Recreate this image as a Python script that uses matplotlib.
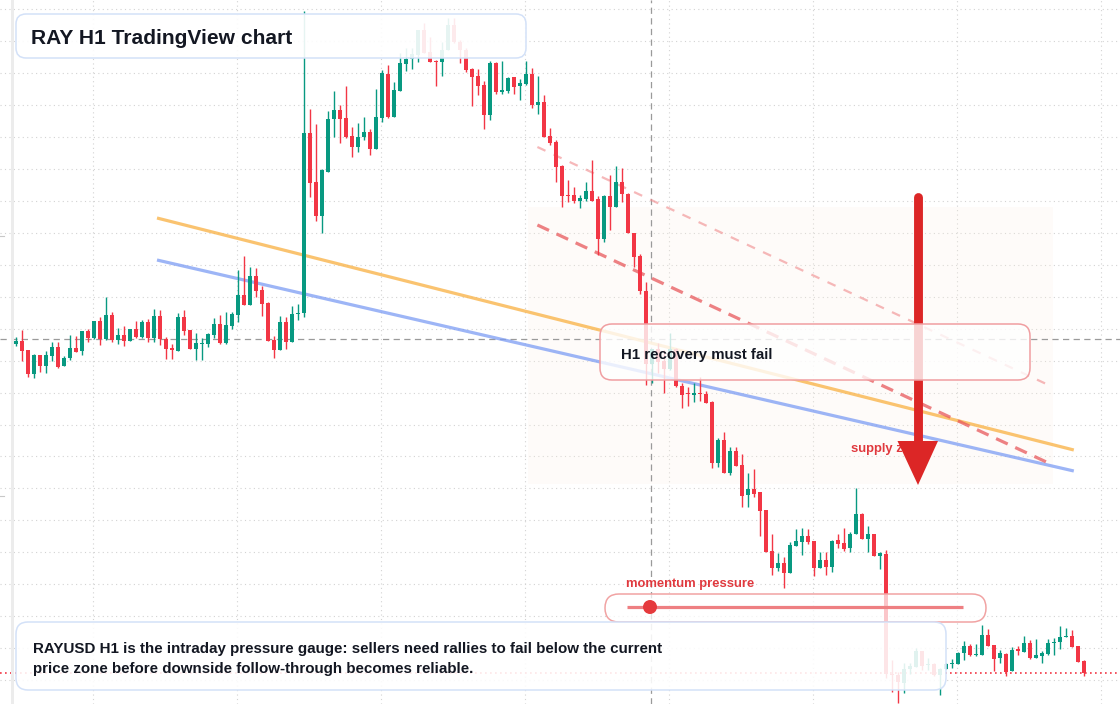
import numpy as np
import matplotlib.pyplot as plt
import matplotlib.transforms as mtransforms
from matplotlib.patches import FancyBboxPatch, Polygon, Circle, Rectangle

W, H = 1120, 704

# RAYUSD H1 candles
opens = [
    1.656, 1.659, 1.650, 1.626, 1.645, 1.634, 1.644, 1.653, 1.634, 1.642,
    1.652, 1.649, 1.669, 1.662, 1.679, 1.661, 1.685, 1.660, 1.665, 1.659,
    1.671, 1.663, 1.678, 1.662, 1.684, 1.661, 1.652, 1.649, 1.683, 1.670,
    1.651, 1.656, 1.656, 1.665, 1.676, 1.657, 1.674, 1.685, 1.705, 1.695,
    1.724, 1.710, 1.697, 1.660, 1.650, 1.678, 1.658, 1.686, 1.687, 1.867,
    1.818, 1.784, 1.828, 1.881, 1.890, 1.882, 1.864, 1.853, 1.863, 1.868,
    1.851, 1.882, 1.926, 1.883, 1.909, 1.936, 1.941, 1.945, 1.970, 1.948,
    1.939, 1.938, 1.950, 1.975, 1.958, 1.950, 1.931, 1.924, 1.915, 1.885,
    1.937, 1.908, 1.909, 1.923, 1.914, 1.916, 1.926, 1.895, 1.898, 1.864,
    1.858, 1.834, 1.805, 1.805, 1.799, 1.801, 1.809, 1.801, 1.761, 1.804,
    1.793, 1.818, 1.806, 1.767, 1.744, 1.709, 1.636, 1.651, 1.639, 1.631,
    1.651, 1.614, 1.607, 1.605, 1.607, 1.606, 1.598, 1.537, 1.560, 1.527,
    1.549, 1.535, 1.505, 1.511, 1.508, 1.490, 1.449, 1.432, 1.437, 1.427,
    1.454, 1.458, 1.464, 1.459, 1.432, 1.440, 1.433, 1.460, 1.457, 1.452,
    1.466, 1.486, 1.461, 1.466, 1.444, 1.446, 1.326, 1.325, 1.317, 1.331,
    1.333, 1.349, 1.335, 1.336, 1.325, 1.331, 1.336, 1.336, 1.347, 1.354,
    1.345, 1.345, 1.365, 1.355, 1.342, 1.346, 1.329, 1.351, 1.348, 1.357,
    1.342, 1.344, 1.346, 1.357, 1.358, 1.363, 1.364, 1.354, 1.339,
]
highs = [
    1.663, 1.670, 1.650, 1.646, 1.645, 1.649, 1.658, 1.658, 1.644, 1.665,
    1.664, 1.669, 1.671, 1.679, 1.683, 1.703, 1.688, 1.672, 1.674, 1.671,
    1.679, 1.680, 1.681, 1.691, 1.690, 1.663, 1.656, 1.687, 1.690, 1.670,
    1.667, 1.662, 1.667, 1.682, 1.685, 1.688, 1.688, 1.730, 1.744, 1.733,
    1.732, 1.714, 1.698, 1.664, 1.684, 1.683, 1.694, 1.696, 1.989, 1.891,
    1.876, 1.831, 1.889, 1.909, 1.895, 1.914, 1.873, 1.877, 1.883, 1.871,
    1.911, 1.930, 1.935, 1.918, 1.947, 1.952, 1.952, 1.970, 1.977, 1.963,
    1.940, 1.958, 1.982, 1.982, 1.960, 1.952, 1.932, 1.931, 1.919, 1.939,
    1.938, 1.939, 1.923, 1.923, 1.921, 1.939, 1.932, 1.924, 1.905, 1.872,
    1.860, 1.835, 1.820, 1.813, 1.805, 1.818, 1.840, 1.804, 1.805, 1.825,
    1.834, 1.832, 1.807, 1.767, 1.746, 1.718, 1.651, 1.657, 1.650, 1.667,
    1.652, 1.617, 1.613, 1.617, 1.623, 1.609, 1.599, 1.562, 1.568, 1.553,
    1.553, 1.546, 1.527, 1.531, 1.508, 1.490, 1.466, 1.447, 1.443, 1.458,
    1.471, 1.472, 1.471, 1.459, 1.448, 1.448, 1.460, 1.466, 1.472, 1.468,
    1.512, 1.487, 1.474, 1.466, 1.448, 1.450, 1.340, 1.328, 1.337, 1.337,
    1.352, 1.349, 1.342, 1.337, 1.332, 1.337, 1.341, 1.348, 1.359, 1.356,
    1.356, 1.375, 1.371, 1.355, 1.350, 1.347, 1.353, 1.354, 1.364, 1.360,
    1.361, 1.349, 1.361, 1.362, 1.374, 1.372, 1.370, 1.354, 1.340,
]
lows = [
    1.654, 1.639, 1.623, 1.622, 1.628, 1.627, 1.639, 1.632, 1.634, 1.640,
    1.648, 1.645, 1.658, 1.661, 1.655, 1.660, 1.658, 1.656, 1.654, 1.659,
    1.662, 1.662, 1.658, 1.658, 1.655, 1.641, 1.641, 1.649, 1.665, 1.651,
    1.640, 1.640, 1.653, 1.662, 1.656, 1.656, 1.671, 1.678, 1.695, 1.695,
    1.703, 1.684, 1.659, 1.642, 1.650, 1.651, 1.658, 1.680, 1.683, 1.803,
    1.779, 1.767, 1.828, 1.863, 1.857, 1.862, 1.843, 1.848, 1.860, 1.845,
    1.851, 1.878, 1.882, 1.883, 1.909, 1.929, 1.931, 1.938, 1.947, 1.938,
    1.914, 1.924, 1.950, 1.957, 1.937, 1.928, 1.894, 1.905, 1.871, 1.880,
    1.906, 1.906, 1.907, 1.906, 1.900, 1.915, 1.892, 1.886, 1.863, 1.855,
    1.818, 1.793, 1.798, 1.797, 1.792, 1.799, 1.799, 1.745, 1.758, 1.770,
    1.793, 1.798, 1.767, 1.733, 1.706, 1.615, 1.617, 1.627, 1.607, 1.630,
    1.613, 1.592, 1.594, 1.598, 1.599, 1.597, 1.532, 1.533, 1.527, 1.525,
    1.534, 1.493, 1.493, 1.503, 1.464, 1.448, 1.425, 1.429, 1.412, 1.427,
    1.454, 1.445, 1.456, 1.424, 1.432, 1.425, 1.428, 1.452, 1.449, 1.448,
    1.466, 1.461, 1.448, 1.444, 1.431, 1.322, 1.308, 1.297, 1.307, 1.326,
    1.333, 1.330, 1.330, 1.324, 1.305, 1.331, 1.332, 1.336, 1.340, 1.344,
    1.344, 1.345, 1.354, 1.329, 1.337, 1.324, 1.329, 1.345, 1.348, 1.341,
    1.342, 1.337, 1.345, 1.345, 1.351, 1.363, 1.353, 1.338, 1.324,
]
closes = [
    1.659, 1.649, 1.626, 1.645, 1.634, 1.645, 1.653, 1.633, 1.642, 1.652,
    1.648, 1.669, 1.662, 1.679, 1.661, 1.685, 1.660, 1.665, 1.659, 1.671,
    1.663, 1.678, 1.662, 1.684, 1.661, 1.651, 1.650, 1.683, 1.669, 1.651,
    1.657, 1.657, 1.666, 1.676, 1.657, 1.675, 1.686, 1.705, 1.695, 1.724,
    1.709, 1.696, 1.659, 1.650, 1.678, 1.658, 1.686, 1.687, 1.867, 1.817,
    1.784, 1.830, 1.881, 1.890, 1.881, 1.863, 1.853, 1.863, 1.868, 1.851,
    1.883, 1.927, 1.883, 1.910, 1.937, 1.941, 1.946, 1.970, 1.947, 1.938,
    1.938, 1.950, 1.975, 1.958, 1.950, 1.930, 1.923, 1.914, 1.885, 1.937,
    1.908, 1.910, 1.922, 1.913, 1.917, 1.926, 1.895, 1.898, 1.863, 1.857,
    1.833, 1.804, 1.804, 1.799, 1.802, 1.809, 1.799, 1.761, 1.804, 1.793,
    1.818, 1.806, 1.767, 1.743, 1.709, 1.636, 1.651, 1.638, 1.631, 1.651,
    1.614, 1.605, 1.606, 1.607, 1.606, 1.597, 1.537, 1.560, 1.527, 1.549,
    1.534, 1.504, 1.511, 1.506, 1.489, 1.448, 1.432, 1.437, 1.427, 1.455,
    1.459, 1.464, 1.458, 1.432, 1.440, 1.433, 1.459, 1.456, 1.451, 1.466,
    1.486, 1.461, 1.466, 1.444, 1.447, 1.326, 1.325, 1.318, 1.331, 1.334,
    1.349, 1.334, 1.336, 1.325, 1.331, 1.336, 1.337, 1.347, 1.354, 1.345,
    1.346, 1.365, 1.354, 1.341, 1.347, 1.328, 1.350, 1.349, 1.357, 1.342,
    1.345, 1.347, 1.357, 1.358, 1.363, 1.364, 1.353, 1.338, 1.327,
]

# drawn levels: (bar index, price) end points
trend_x = [23.5, 176.3]
orange_trend = [1.782, 1.550]
blue_trend = [1.740, 1.529]
channel_x = [86.9, 172.8]
channel_lower = [1.775, 1.535]
channel_upper = [1.853, 1.613]
zone_bars = [85.3, 172.8]
zone_prices = [1.516, 1.793]
cross_price = 1.661
cross_bar = 105.9

GREEN = '#089981'
RED = '#f23645'
INK = '#131722'
FONT = 'Liberation Sans'

fig = plt.figure(figsize=(W / 100, H / 100), dpi=100)
ax = fig.add_axes([0, 0, 1, 1])
ax.set_xlim(-16 / 6, (W - 16) / 6)
ax.set_ylim(1.296, 2.0)
ax.axis('off')

# pixel coordinates (origin top-left) for the overlay widgets
px = mtransforms.Affine2D().scale(1 / W, -1 / H).translate(0, 1) + ax.transAxes

# grid
for gy in np.arange(1.9908, 1.29, -0.03195):
    ax.axhline(gy, color='#d3d3d3', lw=0.8, ls=(0, (1, 3)), zorder=0)
for gx in np.arange(12.87, 185, 24):
    ax.axvline(gx, color='#d3d3d3', lw=0.8, ls=(0, (1, 3)), zorder=0)

# supply zone shading
ax.add_patch(Rectangle((zone_bars[0], zone_prices[0]), zone_bars[1] - zone_bars[0],
                       zone_prices[1] - zone_prices[0], facecolor='#fdf1e4',
                       alpha=0.22, lw=0, zorder=0.5))

# crosshair and last price
ax.axhline(cross_price, color='#9a9a9a', lw=0.9, ls=(0, (5, 3.5)), zorder=1)
ax.axvline(cross_bar, color='#9a9a9a', lw=0.9, ls=(0, (5, 3.5)), zorder=1)
ax.axhline(closes[-1], color=RED, lw=1.2, ls=(0, (1, 2)), zorder=1)

# trend lines
ax.plot(trend_x, orange_trend, color='#f9b54c', lw=2.3, alpha=0.8, zorder=2,
        solid_capstyle='butt')
ax.plot(trend_x, blue_trend, color='#7c9cf4', lw=2.3, alpha=0.75, zorder=2,
        solid_capstyle='butt')
ax.plot(channel_x, channel_lower, color='#e8585b', lw=2.3, alpha=0.75, zorder=2,
        ls=(0, (4, 2.6)))
ax.plot(channel_x, channel_upper, color='#f08a8c', lw=1.6, alpha=0.6, zorder=2,
        ls=(0, (4, 4)))

# candles
o = np.array(opens)
c = np.array(closes)
idx = np.arange(len(o))
cols = np.where(c >= o, GREEN, RED)
ax.vlines(idx, lows, highs, colors=cols, lw=1.0, zorder=3)
body = np.maximum(np.abs(c - o), 0.0012)
ax.bar(idx, body, bottom=np.minimum(o, c), width=0.74, color=cols, lw=0, zorder=3)

# left edge strip
ax.add_patch(Rectangle((10.5, 0), 3.2, H, transform=px, color='#ececec', lw=0, zorder=4))
for ty in (236, 496):
    ax.plot([0, 4], [ty, ty], transform=px, color='#c8c8c8', lw=0.8, zorder=4)

# supply label and arrow
ax.text(851, 452, 'supply zone', transform=px, fontsize=9.4, fontweight='bold',
        color='#e0393e', family=FONT, zorder=3.5)
ax.plot([918, 918], [197, 445], transform=px, color='#dc2626', lw=6.4,
        solid_capstyle='round', zorder=4)
ax.add_patch(Polygon([(897.5, 441), (938, 441), (918, 485)], closed=True,
                     transform=px, color='#dc2626', lw=0, zorder=4))


def box(x0, y0, x1, y1, edge, alpha, r):
    ax.add_patch(FancyBboxPatch((x0, y0), x1 - x0, y1 - y0,
                                boxstyle=f'round,pad=0,rounding_size={r}',
                                transform=px, facecolor=(1, 1, 1, alpha),
                                edgecolor=edge, lw=1.1, zorder=5))


box(16, 14, 526, 58, '#d3e1f8', 0.9, 10)
box(600, 324, 1030, 380, '#f09ea1', 0.8, 12)
box(605, 594, 986, 622, '#f1a3a3', 0.72, 14)
box(16, 622, 946, 690, '#d3e1f8', 0.88, 12)

ax.text(31, 43.5, 'RAY H1 TradingView chart', transform=px, fontsize=15.15,
        fontweight='bold', color=INK, family=FONT, zorder=6)
ax.text(621, 359, 'H1 recovery must fail', transform=px, fontsize=10.85,
        fontweight='bold', color=INK, family=FONT, zorder=6)
ax.text(33, 653.3, 'RAYUSD H1 is the intraday pressure gauge: sellers need rallies to fail below the current',
        transform=px, fontsize=10.9, fontweight='bold', color=INK, family=FONT, zorder=6)
ax.text(33, 673.3, 'price zone before downside follow-through becomes reliable.',
        transform=px, fontsize=10.9, fontweight='bold', color=INK, family=FONT, zorder=6)

# momentum gauge
ax.text(626, 586.7, 'momentum pressure', transform=px, fontsize=9.4, fontweight='bold',
        color='#e0393e', family=FONT, zorder=6)
ax.plot([627, 963], [607, 607], transform=px, color='#ee7f82', lw=2.3, zorder=6,
        solid_capstyle='butt')
ax.add_patch(Circle((650, 607), 7, transform=px, color='#e53a3d', lw=0, zorder=6))

fig.savefig('out.png', dpi=100)
